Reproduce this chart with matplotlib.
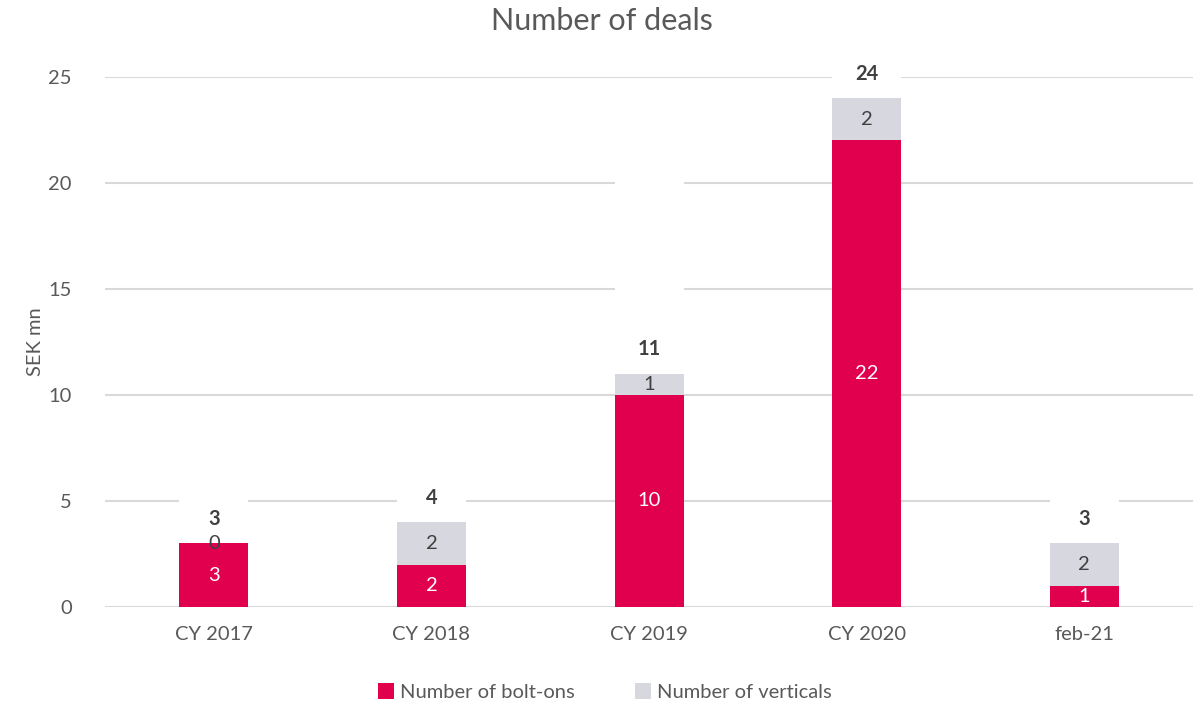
import numpy as np
import matplotlib.pyplot as plt

plt.rcParams['font.family'] = ['Lato', 'DejaVu Sans']

categories = ['CY 2017', 'CY 2018', 'CY 2019', 'CY 2020', 'feb-21']
bolt_ons = [3, 2, 10, 22, 1]
verticals = [0, 2, 1, 2, 2]

totals = [b + v for b, v in zip(bolt_ons, verticals)]

red = '#E0004D'
grey = '#D7D7DF'
text_col = '#595959'
label_col = '#404040'
grid_col = '#D9D9D9'
fs = 14.5

fig = plt.figure(figsize=(12.03, 7.05), dpi=100)
ax = fig.add_axes([0.0873, 0.139, 0.9044, 0.752])

x = np.arange(len(categories))
w = 0.317

ax.bar(x, bolt_ons, w, color=red, label='Number of bolt-ons', zorder=2)
ax.bar(x, verticals, w, bottom=bolt_ons, color=grey, label='Number of verticals', zorder=2)
# invisible "total" series stacked on top, keeps the gridlines clear behind the totals
ax.bar(x, totals, w, bottom=totals, color='white', zorder=2)

for i in range(len(x)):
    ax.text(x[i], bolt_ons[i] / 2, str(bolt_ons[i]), ha='center', va='center',
            color='white', fontsize=fs, zorder=3)
    ax.text(x[i], bolt_ons[i] + verticals[i] / 2, str(verticals[i]), ha='center', va='center',
            color=label_col, fontsize=fs, zorder=3)
    ax.text(x[i], totals[i] + 1.15, str(totals[i]), ha='center', va='center',
            color=label_col, fontsize=fs, fontweight='bold', zorder=3)

ax.set_xlim(-0.5, len(x) - 0.5)
ax.set_ylim(0, 25)
ax.set_yticks(np.arange(0, 26, 5))
ax.set_xticks(x)
ax.set_xticklabels(categories)
ax.tick_params(axis='both', length=0, labelsize=fs, colors=text_col)
ax.tick_params(axis='x', pad=14)
ax.tick_params(axis='y', pad=24)
ax.yaxis.grid(True, color=grid_col, linewidth=1.5, zorder=0)
ax.set_axisbelow(True)
for s in ax.spines.values():
    s.set_visible(False)

ax.set_ylabel('SEK mn', fontsize=fs, color=text_col, labelpad=3)
fig.suptitle('Number of deals', fontsize=22, color=text_col, y=0.99)

handles, labels = ax.get_legend_handles_labels()
fig.legend(handles, labels, loc='lower center', bbox_to_anchor=(0.503, -0.02), ncol=2,
           frameon=False, fontsize=fs, labelcolor=text_col, handlelength=0.8,
           handleheight=0.8, handletextpad=0.3, columnspacing=3.0)

fig.savefig('out.png', dpi=100)
